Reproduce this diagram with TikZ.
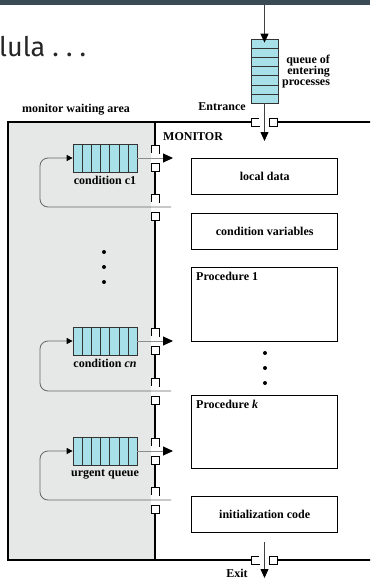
\documentclass[tikz,border=0pt]{standalone}
\usepackage{fontspec}
\setmainfont{Liberation Serif}
\newfontfamily\titlefont{Fira Sans}
\usetikzlibrary{arrows.meta,calc,positioning}
\definecolor{qfill}{RGB}{168,224,233}
\definecolor{waitgray}{RGB}{230,231,231}
\definecolor{barslate}{RGB}{58,75,85}

\begin{document}
\begin{tikzpicture}[x=1pt, y=-1pt,
    lbl/.style={font=\fontsize{12}{11}\selectfont\bfseries, inner sep=0pt},
    part/.style={draw, line width=1.4pt, minimum width=146pt, minimum height=36pt, anchor=north west, inner sep=0pt, font=\fontsize{12}{11}\selectfont\bfseries},
    queue/.style={draw=black!80, fill=qfill, line width=0.7pt, inner sep=0pt},
    port/.style={draw, fill=white, line width=0.6pt, minimum size=8pt, inner sep=0pt},
    flow/.style={black!45, line width=1pt, -{Triangle[length=10pt,width=9pt,color=black]}},
    back/.style={black!60, line width=0.8pt, rounded corners=8pt, -{Triangle[length=6pt,width=6pt,color=black]}},
    enter/.style={black!75, line width=0.8pt, -{Triangle[length=9pt,width=8pt,color=black]}}
]
\useasboundingbox (0,0) rectangle (370,579);
\clip (0,0) rectangle (370,579);

% slide remains
\fill[barslate] (0,0) rectangle (370,5);
\node[anchor=base west, inner sep=0pt, font=\titlefont\fontsize{27}{30}\selectfont, text=black!85] (title) at (-1,56) {\frenchspacing lula . . .};

% monitor walls
\fill[waitgray] (8,122) rectangle (155,560);
\draw[line width=1.8pt] (155,122) -- (155,560);
\draw[line width=2pt] (375,122) -- (8,122) -- (8,560) -- (375,560);

% entrance and exit
\node[port] (inL) at (255,122) {};
\node[port] (inR) at (273.5,122) {};
\fill[white] (inL.north east) rectangle (inR.south west);
\node[port] (outL) at (255,560) {};
\node[port] (outR) at (273.5,560) {};
\fill[white] (outL.north east) rectangle (outR.south west);

\node[queue, minimum width=27pt, minimum height=64pt] (qin) at (264.5,71) {};
\foreach \i in {1,...,6}
    \draw[black!80, line width=0.7pt] ($(qin.north west)!\i/7!(qin.south west)$) -- ($(qin.north east)!\i/7!(qin.south east)$);
\node[lbl, anchor=west, align=right] (qlbl) at (282,72) {queue of\\entering\\processes};
\node[lbl, anchor=east] (entr) at (246,107) {Entrance};
\node[lbl] (warea) at (76,110) {monitor waiting area};
\node[lbl, anchor=west] (mon) at (163,137) {MONITOR};
\node[lbl] (exitl) at (237,573) {Exit};

\coordinate (src) at (264.5,5);
\coordinate (entry) at (264.5,141);
\coordinate (leave) at (264.5,542);
\coordinate (sink) at (264.5,578);
\draw[enter, shorten >=-4pt] (src) -- (qin.north);
\draw[enter] (qin.south) -- (entry);
\draw[enter] (leave) -- (sink);

% doors in the waiting wall
\foreach \y/\n in {158/c1a, 207/c1b, 341/cna, 391/cnb, 451/ura, 500/urb} {
    \node[port] (\n t) at (155,\y-9) {};
    \node[port] (\n b) at (155,\y+9) {};
    \fill[white] (\n t.south west) rectangle (\n b.north east);
}

% waiting queues
\node[queue, minimum width=64pt, minimum height=28pt] (qc1) at (105,158) {};
\node[queue, minimum width=64pt, minimum height=28pt] (qcn) at (105,341) {};
\node[queue, minimum width=64pt, minimum height=28pt] (qur) at (105,451) {};
\foreach \q in {qc1,qcn,qur}
    \foreach \i in {1,...,6}
        \draw[black!80, line width=0.7pt] ($(\q.north west)!\i/7!(\q.north east)$) -- ($(\q.south west)!\i/7!(\q.south east)$);
\node[lbl, below=4pt of qc1] (lc1) {condition c1};
\node[lbl, below=4pt of qcn] (lcn) {condition \textit{cn}};
\node[lbl, below=4pt of qur] (lur) {urgent queue};

\coordinate (c1out) at (173,158);
\coordinate (cnout) at (173,341);
\coordinate (urout) at (173,451);
\coordinate (c1in) at (171,207);
\coordinate (cnin) at (171,391);
\coordinate (urin) at (171,500);
\draw[flow] (qc1.east) -- (c1out);
\draw[flow] (qcn.east) -- (cnout);
\draw[flow] (qur.east) -- (urout);
\draw[back] (c1in) -- ++(-131,0) |- (qc1.west);
\draw[back] (cnin) -- ++(-131,0) |- (qcn.west);
\draw[back] (urin) -- ++(-131,0) |- (qur.west);

\foreach \y in {252,267,282} \fill (104,\y) circle (2pt);

% monitor parts
\node[part] (ldata) at (191,158) {local data};
\node[part] (cvars) at (191,213) {condition variables};
\node[part, minimum height=74pt, label={[lbl, anchor=north west, xshift=5pt, yshift=-5pt]north west:Procedure 1}] (proc1) at (191,267) {};
\node[part, minimum height=73pt, label={[lbl, anchor=north west, xshift=5pt, yshift=-5pt]north west:Procedure \textit{k}}] (prock) at (191,395) {};
\node[part] (init) at (191,496) {initialization code};
\foreach \y in {353,368,383} \fill (265,\y) circle (2pt);
\end{tikzpicture}
\end{document}
